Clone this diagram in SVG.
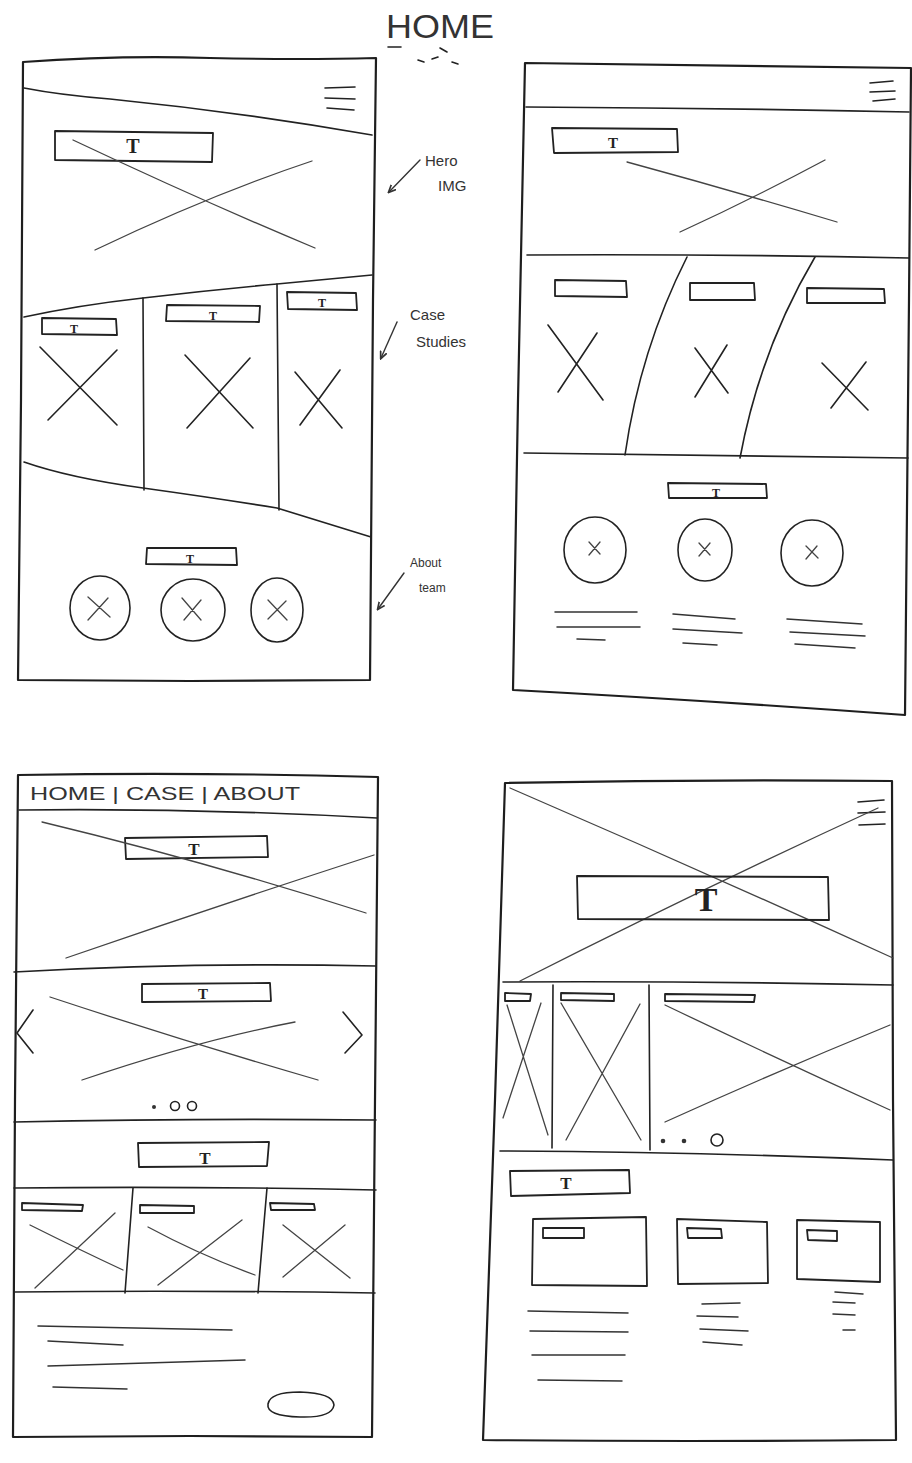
<svg xmlns="http://www.w3.org/2000/svg" width="912" height="1463" viewBox="0 0 912 1463">
<defs>
<style>
.frame{fill:none;stroke:#1e1e1e;stroke-width:2.2;stroke-linejoin:round;stroke-linecap:round}
.ln{fill:none;stroke:#222;stroke-width:1.6;stroke-linecap:round;stroke-linejoin:round}
.box{fill:none;stroke:#222;stroke-width:1.8;stroke-linejoin:round}
.x{fill:none;stroke:#444;stroke-width:1.3;stroke-linecap:round}
.txtl{fill:none;stroke:#333;stroke-width:1.5;stroke-linecap:round}
.t{font-family:"Liberation Serif",serif;font-weight:bold;fill:#222;text-anchor:middle}
.hand{font-family:"Liberation Sans",sans-serif;fill:#333}
.arr{fill:none;stroke:#333;stroke-width:1.4;stroke-linecap:round}
</style>
<marker id="ah" viewBox="0 0 10 10" refX="8" refY="5" markerWidth="6" markerHeight="6" orient="auto-start-reverse">
<path d="M0,1 L9,5 L0,9" fill="none" stroke="#333" stroke-width="2"/>
</marker>
</defs>
<rect width="912" height="1463" fill="#fff"/>

<g id="title">
<text class="hand" x="386" y="38" font-size="34" fill="#444" textLength="108" lengthAdjust="spacingAndGlyphs">HOME</text>
<path class="ln" d="M388,47 L401,47 M440,48 L447,52 M418,60 L424,62 M432,59 L438,57 M452,62 L458,64"/>
</g>

<g id="mobile-1">
<path class="frame" d="M23,62 Q120,55 210,58 Q300,60 376,58 L373,300 L370,680 L190,681 L18,680 L21,400 Z"/>
<path class="ln" d="M24,88 Q60,95 110,99 Q240,112 372,135"/>
<path class="ln" d="M325,88 L355,87 M325,98 L355,99 M327,108 L354,110"/>
<path class="box" d="M55,131 L213,133 L212,162 L55,160 Z"/>
<text class="t" x="133" y="153" font-size="20">T</text>
<path class="x" d="M73,140 Q200,200 315,248 M95,250 Q210,195 312,161"/>
<path class="ln" d="M24,317 Q80,305 143,298 Q210,290 277,284 L372,275"/>
<path class="ln" d="M143,298 L144,490 M277,284 L279,510"/>
<path class="ln" d="M24,462 Q70,478 143,488 Q215,498 277,508 L371,537"/>
<path class="box" d="M42,318 L116,319 L117,335 L42,334 Z"/>
<path class="box" d="M167,305 L260,306 L259,322 L166,321 Z"/>
<path class="box" d="M287,292 L356,293 L357,310 L288,309 Z"/>
<text class="t" x="74" y="333" font-size="12">T</text>
<text class="t" x="213" y="320" font-size="12">T</text>
<text class="t" x="322" y="307" font-size="12">T</text>
<path class="ln" d="M40,347 L117,425 M117,350 L48,420"/>
<path class="ln" d="M185,355 L253,428 M250,358 L187,428"/>
<path class="ln" d="M295,372 L342,428 M340,370 L300,425"/>
<path class="box" d="M147,548 L236,548 L237,565 L146,564 Z"/>
<text class="t" x="190" y="563" font-size="12">T</text>
<ellipse class="ln" cx="100" cy="608" rx="30" ry="32"/>
<ellipse class="ln" cx="193" cy="610" rx="32" ry="31"/>
<ellipse class="ln" cx="277" cy="610" rx="26" ry="32"/>
<path class="x" d="M88,597 L110,617 M108,598 L88,620 M182,598 L201,620 M201,600 L184,620 M268,600 L287,620 M286,601 L268,619"/>
</g>

<g id="annotations">
<text class="hand" x="425" y="166" font-size="15">Hero</text>
<text class="hand" x="438" y="191" font-size="15">IMG</text>
<text class="hand" x="410" y="320" font-size="15">Case</text>
<text class="hand" x="416" y="347" font-size="15">Studies</text>
<text class="hand" x="410" y="567" font-size="12">About</text>
<text class="hand" x="419" y="592" font-size="12">team</text>
</g>

<g id="mobile-2">
<path class="frame" d="M18,775 Q200,772 378,777 L375,1100 L372,1437 L190,1436 L13,1437 L15,1100 Z"/>
<text class="hand" x="30" y="800" font-size="19" textLength="270" lengthAdjust="spacingAndGlyphs">HOME | CASE | ABOUT</text>
<path class="ln" d="M19,810 Q200,808 377,818"/>
<path class="box" d="M125,838 L267,836 L268,857 L126,859 Z"/>
<text class="t" x="194" y="855" font-size="17">T</text>
<path class="x" d="M42,822 Q200,860 366,913 M66,958 Q220,905 374,855"/>
<path class="ln" d="M14,972 Q190,962 376,966"/>
<path class="box" d="M142,984 L270,983 L271,1001 L142,1002 Z"/>
<text class="t" x="203" y="999" font-size="15">T</text>
<path class="ln" d="M33,1010 L17,1033 L33,1053" stroke-width="2.2"/>
<path class="ln" d="M343,1012 L362,1035 L345,1053" stroke-width="2"/>
<path class="x" d="M50,997 Q180,1040 318,1080 M82,1080 Q200,1040 295,1022"/>
<circle cx="154" cy="1107" r="2" fill="#333"/>
<circle class="ln" cx="175" cy="1106" r="4.5" stroke-width="1.3"/>
<circle class="ln" cx="192" cy="1106" r="4.5" stroke-width="1.3"/>
<path class="ln" d="M14,1122 Q190,1118 376,1120"/>
<path class="box" d="M138,1143 L269,1142 L267,1166 L139,1167 Z"/>
<text class="t" x="205" y="1164" font-size="17">T</text>
<path class="ln" d="M14,1188 Q190,1186 376,1190"/>
<path class="ln" d="M133,1188 L125,1293 M267,1188 L258,1293"/>
<path class="box" d="M22,1203 L83,1205 L82,1211 L22,1210 Z"/>
<path class="box" d="M140,1205 L194,1206 L194,1213 L140,1213 Z"/>
<path class="box" d="M270,1203 L314,1204 L315,1210 L271,1210 Z"/>
<path class="x" d="M30,1225 Q80,1250 123,1270 M115,1213 L35,1288"/>
<path class="x" d="M148,1227 Q200,1255 255,1275 M242,1220 L158,1285"/>
<path class="x" d="M283,1225 L350,1278 M345,1225 L283,1277"/>
<path class="ln" d="M14,1292 Q190,1290 375,1293"/>
<path class="txtl" d="M38,1326 L232,1330 M48,1341 L123,1345 M48,1366 L245,1360 M53,1387 L127,1389"/>
<path class="ln" d="M268,1404 Q270,1392 300,1392 Q333,1393 334,1405 Q332,1418 300,1417 Q266,1416 268,1404 Z" stroke-width="1.8"/>
</g>

<g id="desktop-1">
<path class="frame" d="M525,63 Q720,66 911,68 L909,300 L905,715 Q700,700 513,690 L518,400 Z"/>
<path class="ln" d="M526,107 Q720,108 909,112"/>
<path class="ln" d="M870,83 L893,81 M870,92 L895,91 M873,101 L895,99"/>
<path class="box" d="M552,128 L677,129 L678,152 L554,153 Z"/>
<text class="t" x="613" y="148" font-size="15">T</text>
<path class="x" d="M627,162 Q730,190 837,222 M825,160 Q750,200 680,232"/>
<path class="ln" d="M527,255 Q720,254 909,258"/>
<path class="ln" d="M687,257 Q640,350 625,455 M815,257 Q760,350 740,458"/>
<path class="ln" d="M524,453 Q720,456 908,458"/>
<path class="box" d="M555,280 L626,281 L627,297 L555,296 Z"/>
<path class="box" d="M690,283 L754,283 L755,300 L690,300 Z"/>
<path class="box" d="M807,288 L884,289 L885,303 L807,303 Z"/>
<path class="ln" d="M548,325 L603,400 M597,333 L558,392"/>
<path class="ln" d="M695,348 L728,393 M727,345 L695,397"/>
<path class="ln" d="M822,363 L868,410 M866,362 L831,408"/>
<path class="box" d="M668,483 L766,484 L767,498 L669,498 Z"/>
<text class="t" x="716" y="497" font-size="12">T</text>
<ellipse class="ln" cx="595" cy="550" rx="31" ry="33"/>
<ellipse class="ln" cx="705" cy="550" rx="27" ry="31"/>
<ellipse class="ln" cx="812" cy="553" rx="31" ry="33"/>
<path class="x" d="M589,542 L600,554 M600,542 L589,555 M699,543 L710,555 M710,543 L699,556 M806,546 L818,558 M817,546 L806,559"/>
<path class="txtl" d="M555,612 L637,612 M557,627 L640,627 M577,639 L605,640"/>
<path class="txtl" d="M673,614 L735,619 M673,629 L742,633 M683,643 L717,645"/>
<path class="txtl" d="M787,619 L862,624 M790,632 L865,636 M795,644 L855,648"/>
</g>

<g id="desktop-2">
<path class="frame" d="M505,783 Q700,779 892,781 L893,1100 L896,1440 Q690,1442 483,1440 L495,1100 Z"/>
<path class="ln" d="M858,802 L884,800 M858,813 L885,812 M859,825 L885,824"/>
<path class="x" d="M510,788 Q700,870 893,958 M520,981 Q700,890 878,808"/>
<path class="box" d="M577,876 L828,877 L829,920 L578,919 Z"/>
<text class="t" x="706" y="911" font-size="34">T</text>
<path class="ln" d="M503,982 Q700,981 893,985"/>
<path class="ln" d="M553,985 L552,1148 M649,985 L650,1150"/>
<path class="box" d="M505,993 L531,994 L530,1001 L505,1001 Z"/>
<path class="box" d="M561,993 L614,994 L614,1001 L561,1000 Z"/>
<path class="box" d="M665,994 L755,995 L754,1002 L665,1001 Z"/>
<path class="x" d="M507,1005 L548,1135 M541,1003 L503,1118"/>
<path class="x" d="M561,1003 L641,1140 M640,1004 L566,1140"/>
<path class="x" d="M665,1005 Q780,1060 890,1110 M665,1122 Q780,1070 890,1025"/>
<circle cx="663" cy="1141" r="2.3" fill="#333"/>
<circle cx="684" cy="1141" r="2.3" fill="#333"/>
<circle class="ln" cx="717" cy="1140" r="6" stroke-width="1.3"/>
<path class="ln" d="M500,1151 Q700,1152 893,1160"/>
<path class="box" d="M510,1171 L629,1170 L630,1193 L511,1196 Z"/>
<text class="t" x="566" y="1189" font-size="17">T</text>
<path class="box" d="M533,1219 L646,1217 L647,1286 L532,1285 Z"/>
<path class="box" d="M543,1228 L584,1228 L584,1238 L543,1238 Z"/>
<path class="box" d="M677,1219 L767,1222 L768,1283 L678,1284 Z"/>
<path class="box" d="M687,1228 L721,1229 L722,1238 L688,1238 Z"/>
<path class="box" d="M797,1220 L880,1222 L880,1282 L797,1279 Z"/>
<path class="box" d="M807,1230 L837,1231 L837,1241 L808,1240 Z"/>
<path class="txtl" d="M528,1311 L628,1313 M530,1331 L628,1332 M532,1355 L625,1355 M538,1380 L622,1381"/>
<path class="txtl" d="M702,1304 L740,1303 M697,1316 L738,1317 M700,1329 L748,1331 M703,1342 L742,1345"/>
<path class="txtl" d="M835,1292 L863,1294 M833,1302 L855,1303 M833,1314 L855,1315 M843,1330 L855,1330"/>
</g>

<g id="connectors">
<path class="arr" d="M420,160 L389,192" marker-end="url(#ah)"/>
<path class="arr" d="M397,322 L381,358" marker-end="url(#ah)"/>
<path class="arr" d="M404,573 L378,609" marker-end="url(#ah)"/>
</g>
</svg>
